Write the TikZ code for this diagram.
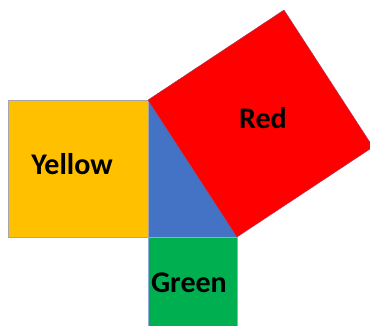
\documentclass[tikz,border=0pt]{standalone}
\usepackage{fontspec}
\setmainfont{Carlito}
\definecolor{cyellow}{HTML}{FFC000}
\definecolor{cblue}{HTML}{4472C4}
\definecolor{cred}{HTML}{FF0000}
\definecolor{cgreen}{HTML}{00B050}
\begin{document}
\begin{tikzpicture}[x=1pt,y=-1pt,
  lbl/.style={font=\bfseries\fontsize{30}{33}\selectfont, text=black, inner sep=0pt}]
\useasboundingbox (0,0) rectangle (370,326);
\coordinate (A) at (148,100);
\coordinate (B) at (148,237);
\coordinate (C) at (237,237);
\coordinate (T) at (284,10);
\coordinate (R) at (373,147);
\fill[cblue] (A) -- (B) -- (C) -- cycle;
\filldraw[fill=cyellow, draw=gray!70, line width=0.6pt] (8,100) rectangle (B);
\filldraw[fill=cgreen, draw=cblue!60, line width=0.5pt] (B) rectangle (237,327);
\filldraw[fill=cred, draw=cblue!50!cred, line width=0.4pt] (A) -- (T) -- (R) -- (C) -- cycle;
\node[lbl] (yl) at (72,164) {Yellow};
\node[lbl] (rl) at (263,118) {Red};
\node[lbl] (gl) at (189,283) {Green};
\end{tikzpicture}
\end{document}
